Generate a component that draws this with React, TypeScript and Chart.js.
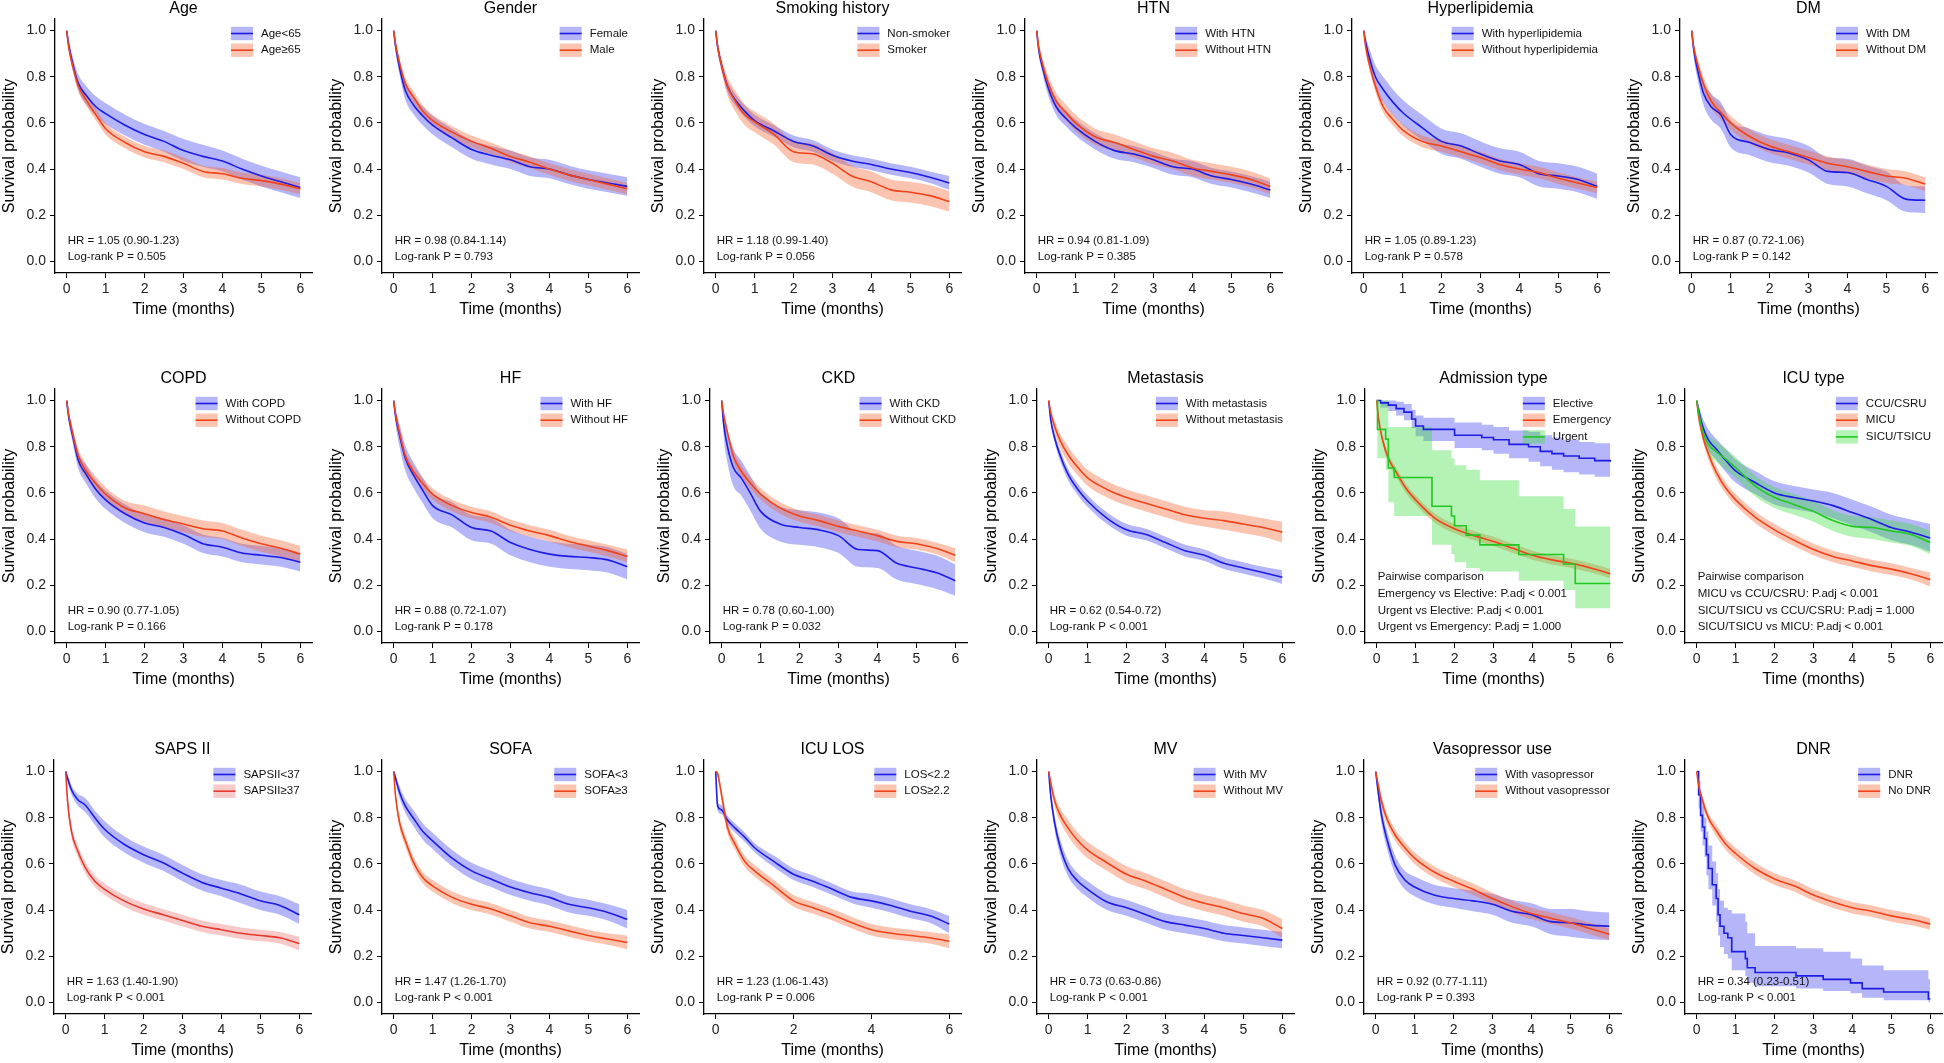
import React, { useEffect, useRef } from 'react';
import { Chart, registerables } from 'chart.js';

Chart.register(...registerables);

const FONT = '"Liberation Sans", Arial, Helvetica, sans-serif';

// ---------- shared grids ----------
const T = [0, 0.05, 0.15, 0.3, 0.5, 0.75, 1, 1.5, 2, 2.5, 3, 3.5, 4, 4.5, 5, 5.5, 6];
const X_TICKS = [0, 1, 2, 3, 4, 5, 6];
const X_TICKS_LOS = [0, 2, 4, 6];
const Y_TICKS = [0, 0.2, 0.4, 0.6, 0.8, 1.0];

// ---------- Age ----------
const ageLt65 = [1, 0.94, 0.86, 0.77, 0.72, 0.67, 0.64, 0.59, 0.55, 0.52, 0.48, 0.455, 0.435, 0.40, 0.37, 0.345, 0.32];
const ageLt65Lo = [1, 0.92, 0.83, 0.74, 0.68, 0.63, 0.595, 0.545, 0.505, 0.475, 0.435, 0.41, 0.39, 0.355, 0.325, 0.30, 0.275];
const ageLt65Hi = [1, 0.96, 0.89, 0.81, 0.76, 0.715, 0.685, 0.635, 0.595, 0.565, 0.53, 0.505, 0.48, 0.445, 0.415, 0.39, 0.365];
const ageGe65 = [1, 0.93, 0.85, 0.76, 0.70, 0.635, 0.575, 0.515, 0.475, 0.455, 0.425, 0.39, 0.38, 0.36, 0.35, 0.335, 0.315];
const ageGe65Lo = [1, 0.915, 0.83, 0.735, 0.675, 0.61, 0.55, 0.49, 0.45, 0.43, 0.40, 0.365, 0.355, 0.335, 0.325, 0.31, 0.29];
const ageGe65Hi = [1, 0.945, 0.87, 0.785, 0.725, 0.66, 0.60, 0.54, 0.50, 0.48, 0.45, 0.415, 0.405, 0.385, 0.375, 0.36, 0.34];

// ---------- Gender ----------
const female = [1, 0.93, 0.84, 0.74, 0.68, 0.63, 0.59, 0.535, 0.485, 0.46, 0.44, 0.41, 0.40, 0.375, 0.355, 0.34, 0.325];
const femaleLo = [1, 0.91, 0.81, 0.70, 0.64, 0.59, 0.55, 0.495, 0.445, 0.42, 0.40, 0.37, 0.36, 0.335, 0.315, 0.30, 0.285];
const femaleHi = [1, 0.95, 0.87, 0.78, 0.72, 0.67, 0.63, 0.575, 0.525, 0.50, 0.48, 0.45, 0.44, 0.415, 0.395, 0.38, 0.365];
const male = [1, 0.94, 0.86, 0.77, 0.715, 0.65, 0.61, 0.56, 0.52, 0.49, 0.455, 0.43, 0.40, 0.375, 0.355, 0.335, 0.315];
const maleLo = [1, 0.925, 0.84, 0.745, 0.69, 0.625, 0.585, 0.535, 0.495, 0.465, 0.43, 0.405, 0.375, 0.35, 0.33, 0.31, 0.29];
const maleHi = [1, 0.955, 0.88, 0.795, 0.74, 0.675, 0.635, 0.585, 0.545, 0.515, 0.48, 0.455, 0.425, 0.40, 0.38, 0.36, 0.34];

// ---------- Smoking history ----------
const nonSmoker = [1, 0.93, 0.85, 0.76, 0.70, 0.65, 0.61, 0.565, 0.52, 0.50, 0.46, 0.435, 0.42, 0.40, 0.385, 0.365, 0.34];
const nonSmokerLo = [1, 0.915, 0.83, 0.735, 0.675, 0.625, 0.585, 0.54, 0.495, 0.475, 0.435, 0.41, 0.395, 0.375, 0.36, 0.34, 0.31];
const nonSmokerHi = [1, 0.945, 0.87, 0.785, 0.725, 0.675, 0.635, 0.59, 0.545, 0.525, 0.485, 0.46, 0.445, 0.425, 0.41, 0.39, 0.37];
const smoker = [1, 0.93, 0.85, 0.76, 0.695, 0.635, 0.605, 0.55, 0.475, 0.465, 0.425, 0.37, 0.345, 0.31, 0.30, 0.285, 0.26];
const smokerLo = [1, 0.91, 0.82, 0.72, 0.65, 0.59, 0.56, 0.505, 0.43, 0.42, 0.38, 0.325, 0.30, 0.265, 0.255, 0.24, 0.215];
const smokerHi = [1, 0.95, 0.88, 0.80, 0.74, 0.68, 0.65, 0.595, 0.52, 0.51, 0.47, 0.415, 0.39, 0.355, 0.345, 0.33, 0.305];

// ---------- HTN ----------
const withHtn = [1, 0.92, 0.84, 0.75, 0.67, 0.62, 0.58, 0.52, 0.48, 0.465, 0.44, 0.41, 0.40, 0.37, 0.355, 0.335, 0.31];
const withHtnLo = [1, 0.90, 0.815, 0.715, 0.635, 0.585, 0.545, 0.485, 0.445, 0.43, 0.405, 0.375, 0.365, 0.335, 0.32, 0.30, 0.275];
const withHtnHi = [1, 0.94, 0.865, 0.785, 0.705, 0.655, 0.615, 0.555, 0.515, 0.50, 0.475, 0.445, 0.435, 0.405, 0.39, 0.37, 0.345];
const withoutHtn = [1, 0.93, 0.855, 0.77, 0.695, 0.645, 0.60, 0.54, 0.515, 0.485, 0.455, 0.435, 0.405, 0.39, 0.375, 0.355, 0.325];
const withoutHtnLo = [1, 0.91, 0.83, 0.735, 0.66, 0.61, 0.565, 0.505, 0.48, 0.45, 0.42, 0.40, 0.37, 0.355, 0.34, 0.32, 0.29];
const withoutHtnHi = [1, 0.95, 0.88, 0.805, 0.73, 0.68, 0.635, 0.575, 0.55, 0.52, 0.49, 0.47, 0.44, 0.425, 0.41, 0.39, 0.36];

// ---------- Hyperlipidemia ----------
const withHyper = [1, 0.95, 0.88, 0.80, 0.745, 0.69, 0.645, 0.58, 0.52, 0.50, 0.465, 0.435, 0.42, 0.38, 0.37, 0.355, 0.325];
const withHyperLo = [1, 0.93, 0.84, 0.75, 0.69, 0.635, 0.59, 0.525, 0.465, 0.445, 0.41, 0.38, 0.365, 0.325, 0.315, 0.30, 0.27];
const withHyperHi = [1, 0.97, 0.92, 0.85, 0.80, 0.745, 0.70, 0.635, 0.575, 0.555, 0.52, 0.49, 0.475, 0.435, 0.425, 0.41, 0.38];
const withoutHyper = [1, 0.93, 0.85, 0.76, 0.67, 0.615, 0.57, 0.52, 0.50, 0.475, 0.45, 0.42, 0.40, 0.385, 0.36, 0.34, 0.32];
const withoutHyperLo = [1, 0.915, 0.83, 0.735, 0.645, 0.59, 0.545, 0.495, 0.475, 0.45, 0.425, 0.395, 0.375, 0.36, 0.335, 0.315, 0.295];
const withoutHyperHi = [1, 0.945, 0.87, 0.785, 0.695, 0.64, 0.595, 0.545, 0.525, 0.50, 0.475, 0.445, 0.425, 0.41, 0.385, 0.365, 0.345];

// ---------- DM ----------
const withDm = [1, 0.92, 0.83, 0.73, 0.67, 0.635, 0.55, 0.515, 0.485, 0.47, 0.44, 0.39, 0.385, 0.355, 0.325, 0.27, 0.265];
const withDmLo = [1, 0.89, 0.79, 0.68, 0.615, 0.575, 0.495, 0.46, 0.43, 0.415, 0.385, 0.335, 0.325, 0.295, 0.265, 0.215, 0.21];
const withDmHi = [1, 0.95, 0.87, 0.78, 0.725, 0.69, 0.61, 0.575, 0.545, 0.53, 0.50, 0.45, 0.445, 0.415, 0.39, 0.33, 0.325];
const withoutDm = [1, 0.93, 0.855, 0.77, 0.695, 0.645, 0.60, 0.54, 0.50, 0.475, 0.45, 0.425, 0.41, 0.39, 0.37, 0.36, 0.335];
const withoutDmLo = [1, 0.915, 0.83, 0.74, 0.665, 0.615, 0.57, 0.51, 0.47, 0.445, 0.42, 0.395, 0.38, 0.36, 0.34, 0.33, 0.305];
const withoutDmHi = [1, 0.945, 0.88, 0.80, 0.725, 0.675, 0.63, 0.57, 0.53, 0.505, 0.48, 0.455, 0.44, 0.42, 0.40, 0.39, 0.365];

// ---------- COPD ----------
const withCopd = [1, 0.93, 0.85, 0.74, 0.68, 0.615, 0.57, 0.51, 0.47, 0.45, 0.42, 0.38, 0.365, 0.34, 0.33, 0.32, 0.30];
const withCopdLo = [1, 0.91, 0.82, 0.705, 0.64, 0.575, 0.53, 0.47, 0.43, 0.41, 0.38, 0.34, 0.325, 0.30, 0.29, 0.28, 0.26];
const withCopdHi = [1, 0.95, 0.88, 0.775, 0.72, 0.655, 0.61, 0.55, 0.51, 0.49, 0.46, 0.42, 0.405, 0.38, 0.37, 0.36, 0.34];
const withoutCopd = [1, 0.94, 0.86, 0.76, 0.695, 0.64, 0.595, 0.535, 0.51, 0.485, 0.465, 0.445, 0.435, 0.405, 0.38, 0.36, 0.335];
const withoutCopdLo = [1, 0.925, 0.835, 0.73, 0.665, 0.61, 0.565, 0.505, 0.475, 0.45, 0.43, 0.41, 0.40, 0.37, 0.345, 0.325, 0.30];
const withoutCopdHi = [1, 0.955, 0.885, 0.79, 0.725, 0.67, 0.625, 0.565, 0.545, 0.52, 0.50, 0.48, 0.47, 0.44, 0.415, 0.395, 0.37];

// ---------- HF ----------
const withHf = [1, 0.93, 0.85, 0.75, 0.68, 0.61, 0.545, 0.505, 0.45, 0.435, 0.385, 0.355, 0.335, 0.325, 0.32, 0.31, 0.28];
const withHfLo = [1, 0.90, 0.80, 0.695, 0.625, 0.555, 0.49, 0.45, 0.395, 0.38, 0.33, 0.30, 0.28, 0.27, 0.265, 0.255, 0.225];
const withHfHi = [1, 0.96, 0.90, 0.805, 0.735, 0.665, 0.60, 0.56, 0.505, 0.49, 0.44, 0.41, 0.39, 0.38, 0.375, 0.365, 0.335];
const withoutHf = [1, 0.94, 0.86, 0.76, 0.695, 0.64, 0.595, 0.545, 0.515, 0.495, 0.46, 0.435, 0.415, 0.39, 0.37, 0.35, 0.325];
const withoutHfLo = [1, 0.925, 0.84, 0.735, 0.67, 0.615, 0.57, 0.52, 0.49, 0.47, 0.435, 0.41, 0.39, 0.365, 0.345, 0.325, 0.30];
const withoutHfHi = [1, 0.955, 0.88, 0.785, 0.72, 0.665, 0.62, 0.57, 0.54, 0.52, 0.485, 0.46, 0.44, 0.415, 0.395, 0.375, 0.355];

// ---------- CKD ----------
const withCkd = [1, 0.90, 0.80, 0.71, 0.665, 0.595, 0.52, 0.465, 0.45, 0.44, 0.415, 0.355, 0.35, 0.295, 0.275, 0.255, 0.22];
const withCkdLo = [1, 0.85, 0.73, 0.63, 0.59, 0.52, 0.445, 0.39, 0.375, 0.365, 0.34, 0.28, 0.275, 0.225, 0.205, 0.185, 0.155];
const withCkdHi = [1, 0.95, 0.87, 0.79, 0.74, 0.67, 0.60, 0.54, 0.525, 0.515, 0.49, 0.43, 0.425, 0.37, 0.35, 0.33, 0.29];
const withoutCkd = [1, 0.94, 0.86, 0.76, 0.695, 0.64, 0.595, 0.535, 0.50, 0.48, 0.455, 0.435, 0.415, 0.39, 0.38, 0.36, 0.33];
const withoutCkdLo = [1, 0.925, 0.84, 0.735, 0.67, 0.615, 0.57, 0.51, 0.475, 0.455, 0.43, 0.41, 0.39, 0.365, 0.355, 0.335, 0.30];
const withoutCkdHi = [1, 0.955, 0.88, 0.785, 0.72, 0.665, 0.62, 0.56, 0.525, 0.505, 0.48, 0.46, 0.44, 0.415, 0.405, 0.385, 0.36];

// ---------- Metastasis ----------
const withMeta = [1, 0.92, 0.84, 0.76, 0.68, 0.615, 0.565, 0.49, 0.44, 0.42, 0.385, 0.35, 0.33, 0.295, 0.275, 0.255, 0.235];
const withMetaLo = [1, 0.905, 0.82, 0.735, 0.655, 0.59, 0.54, 0.465, 0.415, 0.395, 0.36, 0.325, 0.305, 0.27, 0.25, 0.23, 0.205];
const withMetaHi = [1, 0.935, 0.86, 0.785, 0.705, 0.64, 0.59, 0.515, 0.465, 0.445, 0.41, 0.375, 0.355, 0.32, 0.30, 0.28, 0.265];
const withoutMeta = [1, 0.95, 0.89, 0.825, 0.765, 0.71, 0.665, 0.615, 0.58, 0.555, 0.53, 0.505, 0.49, 0.48, 0.465, 0.45, 0.43];
const withoutMetaLo = [1, 0.935, 0.865, 0.795, 0.73, 0.675, 0.63, 0.58, 0.545, 0.52, 0.495, 0.47, 0.455, 0.44, 0.425, 0.41, 0.385];
const withoutMetaHi = [1, 0.965, 0.915, 0.855, 0.80, 0.745, 0.70, 0.65, 0.615, 0.59, 0.565, 0.54, 0.525, 0.52, 0.505, 0.49, 0.475];

// ---------- Admission type ----------
const electiveT = [0, 0.1, 0.3, 0.5, 0.7, 0.9, 1.0, 1.2, 1.7, 2.0, 2.7, 3.0, 3.4, 3.9, 4.2, 4.5, 4.8, 5.2, 5.6, 6.0];
const elective = [1, 0.99, 0.98, 0.965, 0.95, 0.92, 0.89, 0.875, 0.875, 0.85, 0.84, 0.83, 0.81, 0.80, 0.78, 0.77, 0.76, 0.75, 0.74, 0.735];
const electiveLo = [1, 0.97, 0.955, 0.935, 0.915, 0.88, 0.845, 0.825, 0.825, 0.795, 0.785, 0.77, 0.75, 0.735, 0.715, 0.70, 0.69, 0.68, 0.67, 0.665];
const electiveHi = [1, 1, 1, 0.995, 0.985, 0.96, 0.935, 0.925, 0.925, 0.905, 0.895, 0.885, 0.87, 0.865, 0.85, 0.84, 0.83, 0.82, 0.815, 0.81];
const emergency = [1, 0.92, 0.83, 0.75, 0.69, 0.62, 0.57, 0.49, 0.445, 0.415, 0.39, 0.36, 0.33, 0.31, 0.295, 0.275, 0.25];
const emergencyLo = [1, 0.91, 0.815, 0.73, 0.67, 0.60, 0.55, 0.47, 0.425, 0.395, 0.37, 0.34, 0.31, 0.29, 0.275, 0.255, 0.23];
const emergencyHi = [1, 0.93, 0.845, 0.77, 0.71, 0.64, 0.59, 0.51, 0.465, 0.435, 0.41, 0.38, 0.35, 0.33, 0.315, 0.295, 0.27];
const urgentT = [0, 0.02, 0.23, 0.3, 0.45, 1.42, 1.92, 2.0, 2.3, 2.65, 3.65, 4.8, 5.1, 6.0];
const urgent = [1, 0.875, 0.833, 0.708, 0.667, 0.542, 0.50, 0.458, 0.417, 0.375, 0.333, 0.292, 0.208, 0.208];
const urgentLo = [1, 0.75, 0.70, 0.56, 0.50, 0.375, 0.335, 0.30, 0.275, 0.26, 0.22, 0.18, 0.10, 0.10];
const urgentHi = [1, 1, 1, 0.885, 0.885, 0.785, 0.75, 0.72, 0.70, 0.655, 0.585, 0.53, 0.455, 0.455];

// ---------- ICU type ----------
const ccu = [1, 0.96, 0.89, 0.83, 0.79, 0.74, 0.695, 0.645, 0.60, 0.58, 0.565, 0.545, 0.515, 0.485, 0.45, 0.43, 0.405];
const ccuLo = [1, 0.94, 0.855, 0.785, 0.745, 0.69, 0.645, 0.595, 0.55, 0.53, 0.515, 0.49, 0.46, 0.43, 0.395, 0.375, 0.345];
const ccuHi = [1, 0.98, 0.925, 0.875, 0.835, 0.79, 0.745, 0.695, 0.65, 0.63, 0.615, 0.60, 0.57, 0.54, 0.505, 0.485, 0.465];
const micu = [1, 0.93, 0.85, 0.77, 0.69, 0.62, 0.57, 0.495, 0.44, 0.395, 0.355, 0.325, 0.305, 0.285, 0.27, 0.25, 0.225];
const micuLo = [1, 0.915, 0.83, 0.745, 0.665, 0.595, 0.545, 0.47, 0.415, 0.37, 0.33, 0.30, 0.28, 0.26, 0.245, 0.225, 0.195];
const micuHi = [1, 0.945, 0.87, 0.795, 0.715, 0.645, 0.595, 0.52, 0.465, 0.42, 0.38, 0.35, 0.33, 0.31, 0.295, 0.275, 0.255];
const sicu = [1, 0.95, 0.87, 0.81, 0.78, 0.745, 0.71, 0.63, 0.58, 0.55, 0.52, 0.48, 0.455, 0.45, 0.435, 0.42, 0.385];
const sicuLo = [1, 0.93, 0.835, 0.77, 0.735, 0.70, 0.665, 0.585, 0.535, 0.505, 0.475, 0.435, 0.41, 0.40, 0.385, 0.37, 0.335];
const sicuHi = [1, 0.97, 0.905, 0.85, 0.825, 0.79, 0.755, 0.675, 0.625, 0.595, 0.565, 0.525, 0.50, 0.495, 0.48, 0.465, 0.435];

// ---------- SAPS II ----------
const sapsLt37 = [1, 0.97, 0.92, 0.88, 0.855, 0.80, 0.75, 0.685, 0.64, 0.605, 0.56, 0.52, 0.495, 0.47, 0.44, 0.42, 0.38];
const sapsLt37Lo = [1, 0.955, 0.90, 0.855, 0.825, 0.77, 0.715, 0.65, 0.605, 0.57, 0.525, 0.485, 0.46, 0.43, 0.40, 0.38, 0.34];
const sapsLt37Hi = [1, 0.985, 0.94, 0.905, 0.885, 0.83, 0.785, 0.72, 0.675, 0.64, 0.595, 0.555, 0.53, 0.51, 0.48, 0.46, 0.425];
const sapsGe37 = [1, 0.87, 0.74, 0.66, 0.585, 0.525, 0.49, 0.44, 0.405, 0.38, 0.355, 0.33, 0.315, 0.30, 0.29, 0.28, 0.255];
const sapsGe37Lo = [1, 0.85, 0.715, 0.635, 0.56, 0.50, 0.465, 0.415, 0.38, 0.355, 0.33, 0.305, 0.29, 0.275, 0.265, 0.255, 0.225];
const sapsGe37Hi = [1, 0.89, 0.765, 0.685, 0.61, 0.55, 0.515, 0.465, 0.43, 0.405, 0.38, 0.355, 0.34, 0.325, 0.315, 0.305, 0.285];

// ---------- SOFA ----------
const sofaLt3 = [1, 0.97, 0.91, 0.85, 0.80, 0.74, 0.70, 0.625, 0.57, 0.535, 0.50, 0.475, 0.455, 0.425, 0.41, 0.39, 0.36];
const sofaLt3Lo = [1, 0.955, 0.885, 0.82, 0.765, 0.705, 0.665, 0.59, 0.535, 0.50, 0.465, 0.44, 0.42, 0.39, 0.375, 0.355, 0.32];
const sofaLt3Hi = [1, 0.985, 0.935, 0.88, 0.835, 0.775, 0.735, 0.66, 0.605, 0.57, 0.535, 0.51, 0.49, 0.46, 0.445, 0.425, 0.40];
const sofaGe3 = [1, 0.89, 0.78, 0.70, 0.61, 0.54, 0.505, 0.455, 0.425, 0.405, 0.375, 0.345, 0.33, 0.31, 0.29, 0.275, 0.26];
const sofaGe3Lo = [1, 0.87, 0.755, 0.675, 0.585, 0.515, 0.48, 0.43, 0.40, 0.38, 0.35, 0.32, 0.305, 0.285, 0.265, 0.25, 0.23];
const sofaGe3Hi = [1, 0.91, 0.805, 0.725, 0.635, 0.565, 0.53, 0.48, 0.45, 0.43, 0.40, 0.37, 0.355, 0.335, 0.315, 0.30, 0.29];

// ---------- ICU LOS ----------
const losLt = [1, 0.85, 0.835, 0.79, 0.755, 0.715, 0.67, 0.61, 0.555, 0.525, 0.49, 0.455, 0.44, 0.42, 0.395, 0.375, 0.34];
const losLtLo = [1, 0.83, 0.815, 0.77, 0.735, 0.695, 0.65, 0.585, 0.53, 0.50, 0.465, 0.43, 0.41, 0.39, 0.365, 0.345, 0.30];
const losLtHi = [1, 0.87, 0.855, 0.81, 0.775, 0.735, 0.69, 0.635, 0.58, 0.55, 0.515, 0.48, 0.47, 0.45, 0.425, 0.405, 0.375];
const losGe = [1, 0.99, 0.90, 0.76, 0.685, 0.61, 0.57, 0.505, 0.44, 0.41, 0.38, 0.345, 0.315, 0.30, 0.29, 0.28, 0.265];
const losGeLo = [1, 0.98, 0.875, 0.735, 0.66, 0.585, 0.545, 0.48, 0.415, 0.385, 0.355, 0.32, 0.29, 0.275, 0.265, 0.255, 0.235];
const losGeHi = [1, 1, 0.925, 0.785, 0.71, 0.635, 0.595, 0.53, 0.465, 0.435, 0.405, 0.37, 0.34, 0.325, 0.315, 0.305, 0.295];

// ---------- MV ----------
const withMv = [1, 0.90, 0.78, 0.67, 0.58, 0.525, 0.49, 0.435, 0.41, 0.38, 0.35, 0.335, 0.32, 0.30, 0.29, 0.28, 0.27];
const withMvLo = [1, 0.88, 0.75, 0.635, 0.545, 0.49, 0.455, 0.40, 0.375, 0.345, 0.315, 0.30, 0.285, 0.265, 0.255, 0.245, 0.235];
const withMvHi = [1, 0.92, 0.81, 0.705, 0.615, 0.56, 0.525, 0.47, 0.445, 0.415, 0.385, 0.37, 0.355, 0.335, 0.325, 0.315, 0.305];
const withoutMv = [1, 0.955, 0.875, 0.81, 0.755, 0.70, 0.66, 0.605, 0.555, 0.525, 0.49, 0.455, 0.43, 0.41, 0.385, 0.365, 0.32];
const withoutMvLo = [1, 0.94, 0.85, 0.78, 0.72, 0.665, 0.625, 0.57, 0.52, 0.49, 0.455, 0.42, 0.395, 0.375, 0.35, 0.33, 0.28];
const withoutMvHi = [1, 0.97, 0.90, 0.84, 0.79, 0.735, 0.695, 0.64, 0.59, 0.56, 0.525, 0.49, 0.465, 0.445, 0.42, 0.40, 0.36];

// ---------- Vasopressor use ----------
const withVaso = [1, 0.93, 0.81, 0.70, 0.595, 0.53, 0.50, 0.465, 0.45, 0.44, 0.425, 0.395, 0.38, 0.35, 0.345, 0.335, 0.33];
const withVasoLo = [1, 0.905, 0.775, 0.66, 0.555, 0.49, 0.46, 0.425, 0.41, 0.395, 0.38, 0.345, 0.33, 0.295, 0.285, 0.275, 0.27];
const withVasoHi = [1, 0.955, 0.845, 0.74, 0.635, 0.57, 0.545, 0.51, 0.495, 0.485, 0.47, 0.445, 0.43, 0.405, 0.405, 0.395, 0.39];
const withoutVaso = [1, 0.955, 0.87, 0.79, 0.725, 0.67, 0.625, 0.565, 0.525, 0.49, 0.45, 0.415, 0.385, 0.365, 0.345, 0.32, 0.295];
const withoutVasoLo = [1, 0.94, 0.845, 0.765, 0.70, 0.645, 0.60, 0.54, 0.50, 0.465, 0.425, 0.39, 0.36, 0.34, 0.32, 0.295, 0.27];
const withoutVasoHi = [1, 0.97, 0.895, 0.815, 0.75, 0.695, 0.65, 0.59, 0.55, 0.515, 0.475, 0.44, 0.41, 0.39, 0.37, 0.345, 0.32];

// ---------- DNR ----------
const dnrT = [0, 0.05, 0.1, 0.15, 0.2, 0.25, 0.3, 0.4, 0.5, 0.55, 0.6, 0.7, 0.8, 0.9, 1.25, 1.3, 1.5, 2.55, 3.25, 3.95, 4.25, 4.8, 5.95, 6.0];
const dnr = [1, 0.90, 0.81, 0.76, 0.71, 0.64, 0.58, 0.51, 0.45, 0.38, 0.33, 0.30, 0.28, 0.22, 0.19, 0.15, 0.13, 0.115, 0.10, 0.085, 0.06, 0.045, 0.015, 0.015];
const dnrLo = [1, 0.84, 0.74, 0.68, 0.63, 0.55, 0.49, 0.42, 0.35, 0.29, 0.24, 0.21, 0.19, 0.14, 0.115, 0.085, 0.07, 0.06, 0.05, 0.04, 0.02, 0.01, 0.002, 0.002];
const dnrHi = [1, 0.96, 0.89, 0.85, 0.80, 0.74, 0.68, 0.61, 0.56, 0.49, 0.44, 0.41, 0.40, 0.385, 0.35, 0.30, 0.245, 0.235, 0.22, 0.19, 0.16, 0.14, 0.10, 0.10];
const noDnr = [1, 0.94, 0.875, 0.80, 0.745, 0.685, 0.645, 0.58, 0.535, 0.505, 0.465, 0.435, 0.41, 0.395, 0.375, 0.36, 0.34];
const noDnrLo = [1, 0.93, 0.855, 0.78, 0.72, 0.66, 0.62, 0.555, 0.51, 0.48, 0.44, 0.41, 0.385, 0.37, 0.35, 0.335, 0.315];
const noDnrHi = [1, 0.95, 0.895, 0.82, 0.77, 0.71, 0.67, 0.605, 0.56, 0.53, 0.49, 0.46, 0.435, 0.42, 0.40, 0.385, 0.365];

// ---------- styles ----------
const BLUE = { line: '#1C1CE4', band: 'rgba(60,60,240,0.38)' };
const RED = { line: '#F0431A', band: 'rgba(245,100,50,0.38)' };
const RED2 = { line: '#E8392E', band: 'rgba(235,90,90,0.33)' };
const GREEN = { line: '#22C822', band: 'rgba(60,220,60,0.38)' };

const UX = 38.9; // px per month
const UY = 231.3; // px per unit survival
const PAD_L = 60, PAD_R = 12, PAD_T = 24, PAD_B = 52;
const ROW_Y0 = [262, 632.3, 1003];

const s = (label: string, st: any, v: number[], lo: number[], hi: number[], t?: number[], step?: boolean) =>
  ({ label, st, v, lo, hi, t: t || T, step: !!step });

const PANELS = [
  { title: 'Age', row: 0, x0: 67, series: [s('Age<65', BLUE, ageLt65, ageLt65Lo, ageLt65Hi), s('Age≥65', RED, ageGe65, ageGe65Lo, ageGe65Hi)], notes: ['HR = 1.05 (0.90-1.23)', 'Log-rank P = 0.505'] },
  { title: 'Gender', row: 0, x0: 394, series: [s('Female', BLUE, female, femaleLo, femaleHi), s('Male', RED, male, maleLo, maleHi)], notes: ['HR = 0.98 (0.84-1.14)', 'Log-rank P = 0.793'] },
  { title: 'Smoking history', row: 0, x0: 716, series: [s('Non-smoker', BLUE, nonSmoker, nonSmokerLo, nonSmokerHi), s('Smoker', RED, smoker, smokerLo, smokerHi)], notes: ['HR = 1.18 (0.99-1.40)', 'Log-rank P = 0.056'] },
  { title: 'HTN', row: 0, x0: 1037, series: [s('With HTN', BLUE, withHtn, withHtnLo, withHtnHi), s('Without HTN', RED, withoutHtn, withoutHtnLo, withoutHtnHi)], notes: ['HR = 0.94 (0.81-1.09)', 'Log-rank P = 0.385'] },
  { title: 'Hyperlipidemia', row: 0, x0: 1364, series: [s('With hyperlipidemia', BLUE, withHyper, withHyperLo, withHyperHi), s('Without hyperlipidemia', RED, withoutHyper, withoutHyperLo, withoutHyperHi)], notes: ['HR = 1.05 (0.89-1.23)', 'Log-rank P = 0.578'] },
  { title: 'DM', row: 0, x0: 1692, series: [s('With DM', BLUE, withDm, withDmLo, withDmHi), s('Without DM', RED, withoutDm, withoutDmLo, withoutDmHi)], notes: ['HR = 0.87 (0.72-1.06)', 'Log-rank P = 0.142'] },

  { title: 'COPD', row: 1, x0: 67, series: [s('With COPD', BLUE, withCopd, withCopdLo, withCopdHi), s('Without COPD', RED, withoutCopd, withoutCopdLo, withoutCopdHi)], notes: ['HR = 0.90 (0.77-1.05)', 'Log-rank P = 0.166'] },
  { title: 'HF', row: 1, x0: 394, series: [s('With HF', BLUE, withHf, withHfLo, withHfHi), s('Without HF', RED, withoutHf, withoutHfLo, withoutHfHi)], notes: ['HR = 0.88 (0.72-1.07)', 'Log-rank P = 0.178'] },
  { title: 'CKD', row: 1, x0: 722, series: [s('With CKD', BLUE, withCkd, withCkdLo, withCkdHi), s('Without CKD', RED, withoutCkd, withoutCkdLo, withoutCkdHi)], notes: ['HR = 0.78 (0.60-1.00)', 'Log-rank P = 0.032'] },
  { title: 'Metastasis', row: 1, x0: 1049, series: [s('With metastasis', BLUE, withMeta, withMetaLo, withMetaHi), s('Without metastasis', RED, withoutMeta, withoutMetaLo, withoutMetaHi)], notes: ['HR = 0.62 (0.54-0.72)', 'Log-rank P < 0.001'] },
  { title: 'Admission type', row: 1, x0: 1377, series: [s('Elective', BLUE, elective, electiveLo, electiveHi, electiveT, true), s('Emergency', RED, emergency, emergencyLo, emergencyHi), s('Urgent', GREEN, urgent, urgentLo, urgentHi, urgentT, true)], notes: ['Pairwise comparison', 'Emergency vs Elective: P.adj < 0.001', 'Urgent vs Elective: P.adj < 0.001', 'Urgent vs Emergency: P.adj = 1.000'] },
  { title: 'ICU type', row: 1, x0: 1697, series: [s('CCU/CSRU', BLUE, ccu, ccuLo, ccuHi), s('MICU', RED, micu, micuLo, micuHi), s('SICU/TSICU', GREEN, sicu, sicuLo, sicuHi)], notes: ['Pairwise comparison', 'MICU vs CCU/CSRU: P.adj < 0.001', 'SICU/TSICU vs CCU/CSRU: P.adj = 1.000', 'SICU/TSICU vs MICU: P.adj < 0.001'] },

  { title: 'SAPS II', row: 2, x0: 66, series: [s('SAPSII<37', BLUE, sapsLt37, sapsLt37Lo, sapsLt37Hi), s('SAPSII≥37', RED2, sapsGe37, sapsGe37Lo, sapsGe37Hi)], notes: ['HR = 1.63 (1.40-1.90)', 'Log-rank P < 0.001'] },
  { title: 'SOFA', row: 2, x0: 394, series: [s('SOFA<3', BLUE, sofaLt3, sofaLt3Lo, sofaLt3Hi), s('SOFA≥3', RED, sofaGe3, sofaGe3Lo, sofaGe3Hi)], notes: ['HR = 1.47 (1.26-1.70)', 'Log-rank P < 0.001'] },
  { title: 'ICU LOS', row: 2, x0: 716, xticks: X_TICKS_LOS, series: [s('LOS<2.2', BLUE, losLt, losLtLo, losLtHi), s('LOS≥2.2', RED, losGe, losGeLo, losGeHi)], notes: ['HR = 1.23 (1.06-1.43)', 'Log-rank P = 0.006'] },
  { title: 'MV', row: 2, x0: 1049, series: [s('With MV', BLUE, withMv, withMvLo, withMvHi), s('Without MV', RED, withoutMv, withoutMvLo, withoutMvHi)], notes: ['HR = 0.73 (0.63-0.86)', 'Log-rank P < 0.001'] },
  { title: 'Vasopressor use', row: 2, x0: 1376, series: [s('With vasopressor', BLUE, withVaso, withVasoLo, withVasoHi), s('Without vasopressor', RED, withoutVaso, withoutVasoLo, withoutVasoHi)], notes: ['HR = 0.92 (0.77-1.11)', 'Log-rank P = 0.393'] },
  { title: 'DNR', row: 2, x0: 1697, series: [s('DNR', BLUE, dnr, dnrLo, dnrHi, dnrT, true), s('No DNR', RED, noDnr, noDnrLo, noDnrHi)], notes: ['HR = 0.34 (0.23-0.51)', 'Log-rank P < 0.001'] },
];

function Panel({ p }: { p: any }) {
  const ref = useRef<HTMLCanvasElement | null>(null);
  const y0 = ROW_Y0[p.row];
  const chartLeft = Math.round(p.x0 - 0.3 * UX);
  const chartTop = Math.round(y0 - 1.05 * UY);
  const W = Math.round(PAD_L + 6.6 * UX + PAD_R);
  const H = Math.round(PAD_T + 1.1 * UY + PAD_B);

  useEffect(() => {
    const datasets: any[] = [];
    const interp = (se: any) => (se.step ? { stepped: true } : { cubicInterpolationMode: 'monotone' });
    p.series.forEach((se: any, i: number) => {
      datasets.push({
        data: se.t.map((x: number, j: number) => ({ x, y: se.lo[j] })),
        borderWidth: 0, borderColor: 'rgba(0,0,0,0)', pointRadius: 0, fill: false,
        order: 30 - i, ...interp(se),
      });
      datasets.push({
        data: se.t.map((x: number, j: number) => ({ x, y: se.hi[j] })),
        borderWidth: 0, borderColor: 'rgba(0,0,0,0)', pointRadius: 0, fill: '-1',
        backgroundColor: se.st.band, order: 30 - i, ...interp(se),
      });
    });
    p.series.forEach((se: any, i: number) => {
      datasets.push({
        data: se.t.map((x: number, j: number) => ({ x, y: se.v[j] })),
        borderWidth: 1.6, borderColor: se.st.line, pointRadius: 0, fill: false,
        order: 10 - i, ...interp(se),
      });
    });

    const textPlugin = {
      id: 'panelText',
      afterDraw(chart: any) {
        const ctx = chart.ctx;
        const a = chart.chartArea;
        const xs = chart.scales.x;
        const ys = chart.scales.y;
        ctx.save();
        // title
        ctx.fillStyle = '#000';
        ctx.font = `16px ${FONT}`;
        ctx.textAlign = 'center';
        ctx.textBaseline = 'middle';
        ctx.fillText(p.title, (a.left + a.right) / 2, a.top - 10.2);
        // legend
        ctx.font = `11.5px ${FONT}`;
        const maxW = Math.max(...p.series.map((se: any) => ctx.measureText(se.label).width));
        const textX = a.right - 11 - maxW;
        const keyR = textX - 8;
        const keyL = keyR - 22;
        p.series.forEach((se: any, i: number) => {
          const cy = a.top + 14.5 + i * 16.7;
          ctx.fillStyle = se.st.band;
          ctx.fillRect(keyL, cy - 6.7, 22, 13.4);
          ctx.strokeStyle = se.st.line;
          ctx.lineWidth = 1.6;
          ctx.beginPath();
          ctx.moveTo(keyL, cy);
          ctx.lineTo(keyR, cy);
          ctx.stroke();
          ctx.fillStyle = '#111';
          ctx.textAlign = 'left';
          ctx.textBaseline = 'middle';
          ctx.fillText(se.label, textX, cy);
        });
        // notes
        const nx = xs.getPixelForValue(0) + 1;
        const ny = ys.getPixelForValue(0) - 1;
        ctx.textAlign = 'left';
        ctx.textBaseline = 'alphabetic';
        ctx.fillStyle = '#111';
        p.notes.forEach((n: string, i: number) => {
          ctx.fillText(n, nx, ny - (p.notes.length - 1 - i) * 16.7);
        });
        ctx.restore();
      },
    };

    const xticks = p.xticks || X_TICKS;
    const chart = new Chart(ref.current as HTMLCanvasElement, {
      type: 'line',
      data: { datasets },
      options: {
        animation: false,
        responsive: false,
        events: [],
        layout: { padding: { left: 0, right: PAD_R, top: PAD_T, bottom: 0 } },
        plugins: { legend: { display: false }, title: { display: false }, tooltip: { enabled: false } },
        scales: {
          x: {
            type: 'linear', min: -0.3, max: 6.3,
            afterBuildTicks: (sc: any) => { sc.ticks = xticks.map((v: number) => ({ value: v })); },
            afterFit: (sc: any) => { sc.height = PAD_B; },
            ticks: { font: { family: FONT, size: 14 }, color: '#222', padding: 3, maxRotation: 0, callback: (v: any) => String(v) },
            grid: { display: true, drawOnChartArea: false, drawTicks: true, tickLength: 5, color: '#000', lineWidth: 1 },
            border: { display: true, color: '#000', width: 1.3 },
            title: { display: true, text: 'Time (months)', font: { family: FONT, size: 16 }, color: '#000', padding: { top: 0, bottom: 5.7 } },
          },
          y: {
            type: 'linear', min: -0.05, max: 1.05,
            afterBuildTicks: (sc: any) => { sc.ticks = Y_TICKS.map((v: number) => ({ value: v })); },
            afterFit: (sc: any) => { sc.width = PAD_L; },
            ticks: { font: { family: FONT, size: 14 }, color: '#222', padding: 4, callback: (v: any) => Number(v).toFixed(1) },
            grid: { display: true, drawOnChartArea: false, drawTicks: true, tickLength: 5, color: '#000', lineWidth: 1 },
            border: { display: true, color: '#000', width: 1.3 },
            title: { display: true, text: 'Survival probability', font: { family: FONT, size: 16 }, color: '#000', padding: { top: 5.4, bottom: 0 } },
          },
        },
      },
      plugins: [textPlugin],
    } as any);
    return () => chart.destroy();
  }, []);

  return (
    <canvas
      ref={ref}
      width={W}
      height={H}
      style={{ position: 'absolute', left: chartLeft - PAD_L, top: chartTop - PAD_T, width: W, height: H }}
    />
  );
}

export default function App() {
  useEffect(() => {
    document.body.style.margin = '0';
    document.body.style.overflow = 'hidden';
  }, []);
  return (
    <div style={{ position: 'absolute', left: 0, top: 0, width: 1944, height: 1063, overflow: 'hidden', background: '#fff' }}>
      {PANELS.map((p, i) => <Panel key={i} p={p} />)}
    </div>
  );
}
